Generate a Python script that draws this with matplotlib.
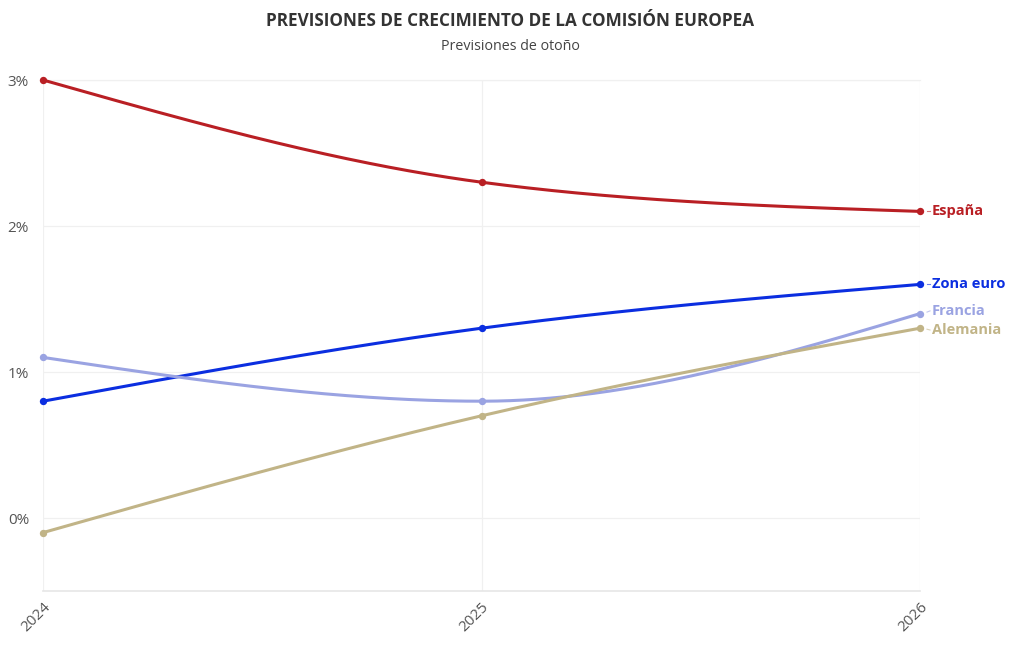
import numpy as np
import matplotlib
matplotlib.use("Agg")
import matplotlib.pyplot as plt

plt.rcParams['font.family'] = ['Open Sans', 'DejaVu Sans']

years = [2024, 2025, 2026]
espana = [3.0, 2.3, 2.1]
zona_euro = [0.8, 1.3, 1.6]
francia = [1.1, 0.8, 1.4]
alemania = [-0.1, 0.7, 1.3]

series = [
    ("España", espana, "#b91f24", 0),
    ("Zona euro", zona_euro, "#0b2ee0", 0),
    ("Francia", francia, "#9aa3e2", 3),
    ("Alemania", alemania, "#c1b487", -2),
]
y_ticks = [0, 1, 2, 3]
y_tick_labels = ["0%", "1%", "2%", "3%"]


def monotone_x(x, y, n=200):
    x = np.asarray(x, float); y = np.asarray(y, float)
    h = np.diff(x); s = np.diff(y) / h
    m = np.zeros_like(y)
    for i in range(1, len(x) - 1):
        if s[i - 1] * s[i] <= 0:
            m[i] = 0
        else:
            p = (s[i - 1] * h[i] + s[i] * h[i - 1]) / (h[i - 1] + h[i])
            m[i] = (np.sign(s[i - 1]) + np.sign(s[i])) * min(abs(s[i - 1]), abs(s[i]), 0.5 * abs(p))
    m[0] = (3 * s[0] - m[1]) / 2
    m[-1] = (3 * s[-1] - m[-2]) / 2
    xs, ys = [], []
    for i in range(len(x) - 1):
        t = np.linspace(0, 1, n)
        hh = h[i]
        h00 = 2 * t**3 - 3 * t**2 + 1
        h10 = t**3 - 2 * t**2 + t
        h01 = -2 * t**3 + 3 * t**2
        h11 = t**3 - t**2
        xs.append(x[i] + t * hh)
        ys.append(h00 * y[i] + h10 * hh * m[i] + h01 * y[i + 1] + h11 * hh * m[i + 1])
    return np.concatenate(xs), np.concatenate(ys)


fig = plt.figure(figsize=(10.2, 6.5), dpi=100)
ax = fig.add_axes([43 / 1020, 59 / 650, (920 - 43) / 1020, (591 - 80) / 650])
ax.set_xlim(2024, 2026)
ax.set_ylim(-0.5, 3.0)

for sp in ax.spines.values():
    sp.set_visible(False)
ax.set_yticks(y_ticks)
ax.set_yticklabels(y_tick_labels)
ax.set_xticks(years)
ax.set_xticklabels([str(y) for y in years], rotation=45, ha="right", va="top",
                   rotation_mode="anchor")
ax.tick_params(axis="y", length=0, pad=10, labelsize=11, labelcolor="#555555")
ax.tick_params(axis="x", length=0, pad=6, labelsize=11, labelcolor="#555555")
ax.grid(True, color="#f0f0f0", linewidth=0.9)
ax.axhline(-0.5, color="#e6e6e6", linewidth=1.2, clip_on=False)
ax.axhline(3.0, color="#f0f0f0", linewidth=0.9, clip_on=False)
ax.set_axisbelow(True)

fig.canvas.draw()
for name, vals, col, dpx in series:
    xs, ys = monotone_x(years, vals)
    ax.plot(xs, ys, color=col, linewidth=2.2, clip_on=False, zorder=3, solid_capstyle="round")
    ax.scatter(years, vals, color=col, s=28, zorder=4, clip_on=False, linewidths=0)
    ax.annotate(name, xy=(years[-1], vals[-1]), xytext=(12, dpx),
                textcoords="offset pixels",
                color=col, fontsize=10.5, fontweight="bold", va="center", ha="left",
                annotation_clip=False)
    x0, y0 = ax.transData.transform((years[-1], vals[-1]))
    inv = ax.transData.inverted()
    p1 = inv.transform((x0 + 7, y0 + dpx * 0.5))
    p2 = inv.transform((x0 + 10, y0 + dpx * 0.9))
    ax.plot([p1[0], p2[0]], [p1[1], p2[1]], color=col, linewidth=0.8, clip_on=False, alpha=0.6)

fig.text(0.5, 1 - 21 / 650, "PREVISIONES DE CRECIMIENTO DE LA COMISIÓN EUROPEA",
         ha="center", va="center", fontsize=12.3, fontweight="bold", color="#333333")
fig.text(0.5, 1 - 46 / 650, "Previsiones de otoño",
         ha="center", va="center", fontsize=10.3, color="#444444")

fig.savefig("out.png", dpi=100, facecolor="white")
